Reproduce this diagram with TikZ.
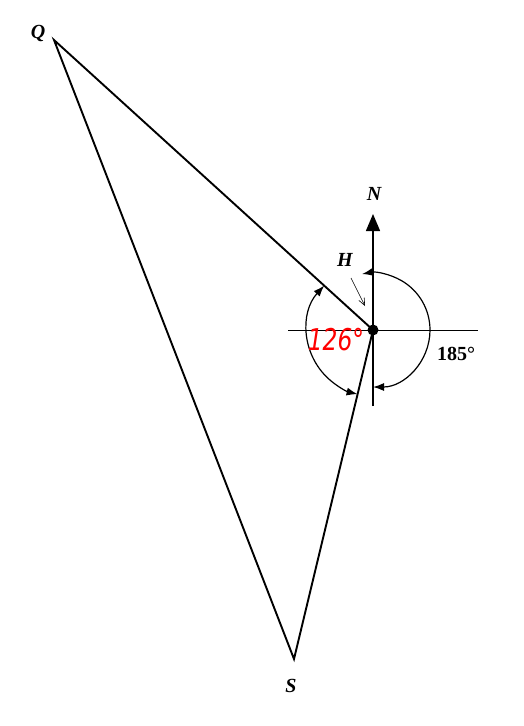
\documentclass[tikz,border=0pt]{standalone}
\usepackage{fontspec}
\setmainfont{Liberation Serif}
\newfontfamily\handfont{DejaVu Sans ExtraLight}
\usetikzlibrary{arrows.meta}
\tikzset{
  mainline/.style={line width=1.9pt},
  arcline/.style={line width=1.2pt},
  lbl/.style={font=\fontsize{20}{22}\selectfont\bfseries\itshape, inner sep=0pt},
  axis/.style={line width=0.8pt}
}
\begin{document}
\begin{tikzpicture}[x=1pt,y=-1pt]
\useasboundingbox (0,0) rectangle (524,726);
\coordinate (H) at (373,330);
\coordinate (Q) at (54,40);
\coordinate (S) at (294,659);
\coordinate (Ntip) at (373,214);
\coordinate (Vbot) at (373,406);
\coordinate (Hl) at (288,330);
\coordinate (Hr) at (478,330);
% axes
\draw[axis] (Hl) -- (Hr);
\draw[line width=1.5pt] (Vbot) -- (H);
\draw[line width=1.5pt, -{Triangle[length=17pt,width=14pt]}] (H) -- (Ntip);
% triangle
\draw[mainline, line join=miter] (H) -- (Q) -- (S) -- cycle;
% arcs
\draw[arcline, {Latex[length=11pt,width=8pt]}-{Latex[length=11pt,width=8pt]}]
  ([shift={(90:57)}]H) arc[start angle=90, end angle=-101, radius=57];
\draw[arcline, {Latex[length=11pt,width=8pt]}-{Latex[length=11pt,width=8pt]}]
  ([shift={(-137.7:66)}]H) arc[start angle=-137.7, end angle=-256.5, radius=66];
\fill (H) circle (5.5);
% labels
\node[lbl] (qlbl) at (38,33) {Q};
\node[lbl] (slbl) at (291,686) {S};
\node[lbl] (nlbl) at (374,194) {N};
\node[lbl] (hlbl) at (345,260) {H};
\coordinate (harrowtail) at (351,278);
\coordinate (harrowhead) at (365,306);
\draw[line width=0.6pt, -{Straight Barb[length=7pt,width=6pt]}] (harrowtail) -- (harrowhead);
\node[font=\fontsize{20}{22}\selectfont\bfseries, inner sep=0pt] (deg) at (456,354) {185°};
\node[font=\fontsize{30}{32}\selectfont\handfont\itshape, text=red, inner sep=0pt, xscale=0.78] (red) at (336,340) {126°};
\end{tikzpicture}
\end{document}
